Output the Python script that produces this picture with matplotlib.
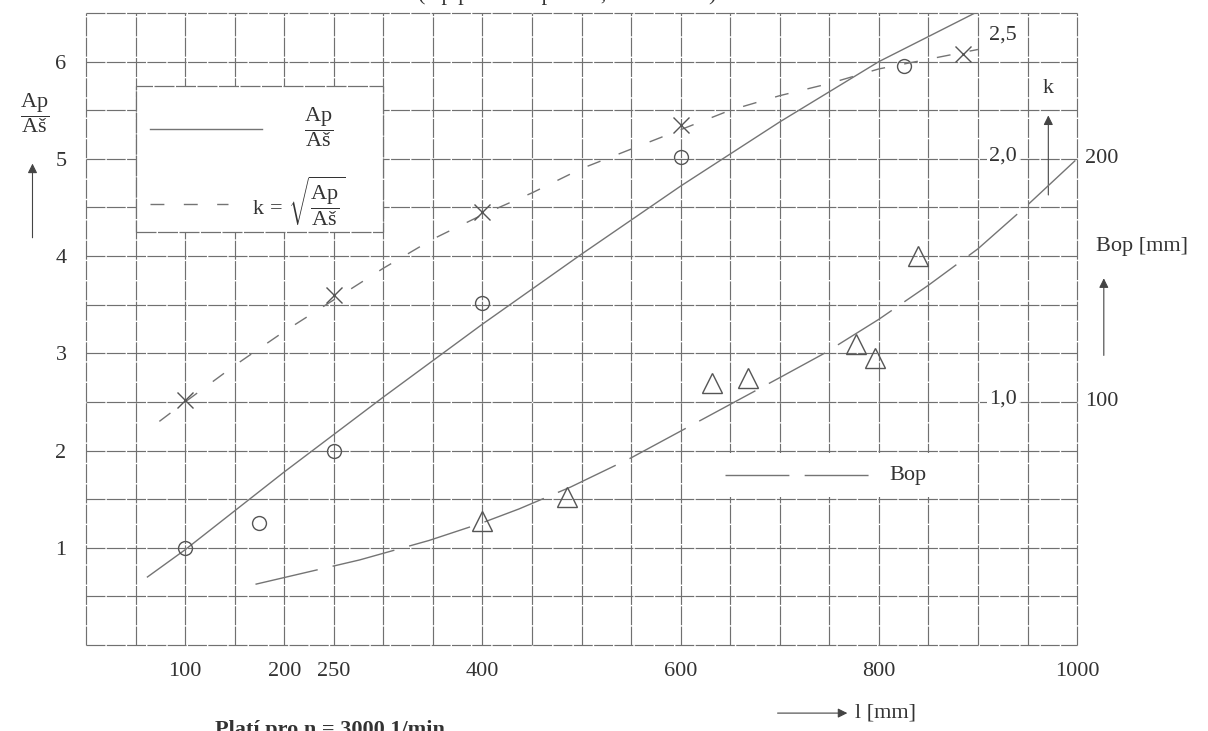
import numpy as np
import matplotlib
matplotlib.use("Agg")
import matplotlib.pyplot as plt
from matplotlib.patches import Rectangle

plt.rcParams['font.family'] = ['Liberation Serif', 'DejaVu Serif']
plt.rcParams['mathtext.fontset'] = 'custom'
plt.rcParams['mathtext.rm'] = 'Liberation Serif'
plt.rcParams['mathtext.it'] = 'Liberation Serif'
plt.rcParams['text.color'] = '#333333'

# measured points, l [mm]
ap_x = [100, 175, 250, 400, 600, 825]
ap_y = [1.0, 1.25, 2.0, 3.52, 5.02, 5.95]
k_x = [100, 250, 400, 600, 885]
k_y = [1.01, 1.44, 1.78, 2.14, 2.43]
bop_x = [400, 485, 632, 668, 777, 796, 840]
bop_y = [51, 61, 108, 110, 124, 118, 160]

# hand-drawn curves
ap_line_x = [62, 100, 200, 300, 400, 500, 600, 700, 800, 897]
ap_line_y = [0.70, 0.98, 1.78, 2.55, 3.30, 4.02, 4.72, 5.38, 6.0, 6.5]
k_line_x = [74, 100, 150, 200, 250, 300, 350, 400, 450, 500, 550, 600, 650, 700, 750, 800, 900]
k_line_y = [0.92, 1.00, 1.15, 1.29, 1.42, 1.55, 1.67, 1.77, 1.86, 1.96, 2.04, 2.12, 2.20,
            2.26, 2.31, 2.37, 2.45]
bop_line_x = [171, 276, 346, 398, 437, 489, 550, 600, 650, 700, 745, 800, 850, 900, 950, 1000]
bop_line_y = [25, 35, 43, 50, 56, 65, 77, 88, 99, 110, 120, 134, 148, 163, 181, 200]

x_ticks = [100, 200, 250, 400, 600, 800, 1000]
y_ticks = [1, 2, 3, 4, 5, 6]
k_labels = [(2.5, '2,5'), (2.0, '2,0'), (1.0, '1,0')]
bop_labels = [(200, '200'), (100, '100')]

GRID = '#707070'
LINE = '#747474'
MARK = '#555555'
FS = 16
grid_style = (0, (16, 1.2))
k_style = (0, (10, 14))
bop_style = (0, (46, 11))

fig = plt.figure(figsize=(12.08, 7.31), dpi=100)
ax = fig.add_axes([0.0712, 0.1176, 0.8204, 0.8646])
ax.set_xlim(0, 1000)
ax.set_ylim(0, 6.5)
ax_k = ax.twinx()
ax_k.set_ylim(0, 2.6)
ax_b = ax.twinx()
ax_b.set_ylim(0, 260)

for a in (ax, ax_k, ax_b):
    for s in a.spines.values():
        s.set_visible(False)
ax_k.set_yticks([])
ax_b.set_yticks([])

# grid paper
for gx in np.arange(0, 1001, 50):
    ax.axvline(gx, color=GRID, lw=0.85, ls=grid_style, zorder=1, clip_on=False)
for gy in np.arange(0, 6.51, 0.5):
    ax.axhline(gy, color=GRID, lw=0.85, ls=grid_style, zorder=1, clip_on=False)

ax.set_xticks(x_ticks)
ax.set_xticklabels([str(v) for v in x_ticks], fontsize=FS)
ax.set_yticks(y_ticks)
ax.set_yticklabels([str(v) for v in y_ticks], fontsize=FS)
ax.tick_params(axis='x', length=0, pad=12, colors='#333333')
ax.tick_params(axis='y', length=0, pad=14, colors='#333333')

# curves and points
ax.plot(ap_line_x, ap_line_y, color=LINE, lw=1.0, zorder=3)
ax.plot(ap_x, ap_y, 'o', ms=10, mfc='none', mec=MARK, mew=1.0, zorder=4)
ax_k.plot(k_line_x, k_line_y, color=LINE, lw=1.0, ls=k_style, zorder=3)
ax_k.plot(k_x, k_y, 'x', ms=12, mec=MARK, mew=1.0, zorder=4)
ax_b.plot(bop_line_x, bop_line_y, color=LINE, lw=1.0, ls=bop_style, zorder=3)
ax_b.plot(bop_x, bop_y, '^', ms=14, mfc='none', mec=MARK, mew=1.0, zorder=4)

# legend box (upper left)
ax.add_patch(Rectangle((50, 4.25), 250, 1.5, fc='white', ec=GRID, lw=0.9,
                       ls=grid_style, zorder=2))
ax.plot([65, 178], [5.31, 5.31], color=LINE, lw=1.0, zorder=3)
ax.text(235, 5.33, r'$\dfrac{\mathrm{Ap}}{\mathrm{Aš}}$', fontsize=FS, ha='center', va='center', zorder=3)
ax.plot([65, 143], [4.54, 4.54], color=LINE, lw=1.0, ls=k_style, zorder=3)
ax.text(167, 4.56, r'$\mathrm{k}\,=\,\sqrt{\dfrac{\mathrm{Ap}}{\mathrm{Aš}}}$', fontsize=FS,
        ha='left', va='center', zorder=3)

# Bop legend
ax.add_patch(Rectangle((625, 1.52), 240, 0.46, fc='white', ec='none', zorder=2))
ax_b.plot([645, 793], [69.8, 69.8], color=LINE, lw=1.0, ls=bop_style, zorder=3)
ax_b.text(811, 69.8, 'Bop', fontsize=FS, ha='left', va='center')

# k scale labels inside the grid
for v, s in k_labels:
    ax_k.text(925, v + 0.01, s, fontsize=FS, ha='center', va='center', zorder=5,
              bbox=dict(fc='white', ec='none', pad=1.5))
ax_k.text(971, 2.29, 'k', fontsize=FS, ha='center', va='center')
ax_k.annotate('', xy=(971, 2.19), xytext=(971, 1.84),
              arrowprops=dict(arrowstyle='-|>', color='#444444', lw=0.8, mutation_scale=14))

# Bop scale labels outside
for v, s in bop_labels:
    ax_b.text(1008, v, s, fontsize=FS, ha='left', va='center')
ax_b.text(1066, 164, 'Bop [mm]', fontsize=FS, ha='center', va='center')
ax_b.annotate('', xy=(1027, 152), xytext=(1027, 118),
              arrowprops=dict(arrowstyle='-|>', color='#444444', lw=0.8, mutation_scale=14),
              annotation_clip=False)

# left axis label
fig.text(0.029, 0.846, r'$\dfrac{\mathrm{Ap}}{\mathrm{Aš}}$', fontsize=FS, ha='center', va='center')
ax.annotate('', xy=(-54, 4.98), xytext=(-54, 4.16),
            arrowprops=dict(arrowstyle='-|>', color='#444444', lw=0.8, mutation_scale=14),
            annotation_clip=False)

# x axis label
ax.annotate('', xy=(771, -0.70), xytext=(695, -0.70),
            arrowprops=dict(arrowstyle='-|>', color='#444444', lw=0.8, mutation_scale=14),
            annotation_clip=False)
ax.text(776, -0.70, 'l [mm]', fontsize=FS, ha='left', va='center')

# texts cut by the edge of the scan, as in the source
fig.text(0.346, 1.0, '(Ap pracovní plocha, Aš šablona)', fontsize=FS,
         ha='left', va='baseline')
fig.text(0.178, -0.006, 'Platí pro n = 3000 1/min', fontsize=FS, fontweight='bold',
         ha='left', va='baseline')

fig.savefig('out.png', dpi=100)
